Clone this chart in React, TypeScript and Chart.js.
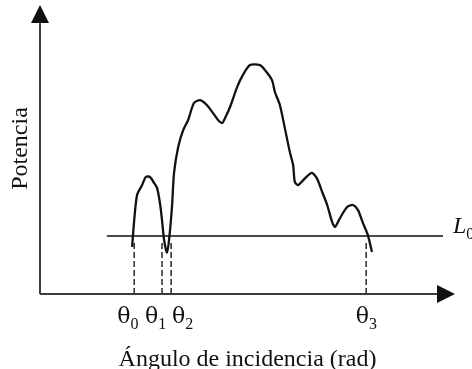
import React, { useEffect, useRef } from "react";
import { Chart, registerables } from "chart.js";

Chart.register(...registerables);

// Curve (angle of incidence -> power), arbitrary units 0..100
const curveX = [22.2, 22.7, 23.4, 24.6, 25.5, 26.5, 27.5, 28.2, 28.9, 29.4, 29.9, 30.6, 31.1, 31.8, 32.3, 33.3, 34.5, 35.7, 37.1, 38.6, 40.2, 41.7, 42.9, 43.9, 44.6, 45.8, 47.5, 48.9, 50.6, 53.0, 54.2, 55.9, 56.6, 57.8, 59.0, 60.2, 61.0, 61.4, 62.2, 63.9, 65.5, 66.7, 68.0, 69.2, 70.4, 71.1, 72.3, 74.0, 75.4, 76.6, 77.8, 79.0, 80.0];
const curveY = [16.3, 25.6, 34.3, 37.7, 40.5, 40.5, 38.4, 36.7, 31.5, 25.6, 18.7, 14.2, 18.7, 30.1, 41.9, 50.9, 56.7, 60.2, 66.1, 67.1, 65.4, 62.6, 60.2, 59.2, 60.9, 64.7, 71.6, 75.8, 79.2, 79.2, 77.5, 74.0, 69.9, 65.4, 57.4, 49.1, 44.6, 38.8, 37.7, 40.1, 41.9, 40.1, 35.3, 30.8, 24.9, 23.2, 26.3, 30.1, 30.8, 29.1, 24.6, 20.4, 14.5];

// Threshold line L0
const thresholdLevel = 20.1;
const thresholdRange = [16.1, 97.1];
const thresholdLabel = "L";
const thresholdSub = "0";

// Crossing angles
const thetaX = [22.7, 29.4, 31.6, 78.6];
const thetaDashTop = 18.5;
const thetaLabelX = [18.6, 25.3, 31.8, 76.1];
const thetaSubs = ["0", "1", "2", "3"];

const xTitle = "Ángulo de incidencia (rad)";
const yTitle = "Potencia";

const FONT = '"Liberation Serif", "Times New Roman", serif';
const AXIS_COLOR = "#3c3c3c";

const overlay = {
  id: "overlay",
  afterDatasetsDraw(chart: any) {
    const { ctx, chartArea, scales } = chart;
    const xs = scales.x;
    const ys = scales.y;
    const left = chartArea.left;
    const bottom = chartArea.bottom;
    const right = chartArea.right;
    const top = chartArea.top;
    const ah = 18;
    const aw = 9;
    ctx.save();
    ctx.strokeStyle = AXIS_COLOR;
    ctx.fillStyle = "#111";
    ctx.lineWidth = 2;
    // axes
    ctx.beginPath();
    ctx.moveTo(left, bottom);
    ctx.lineTo(right - ah + 2, bottom);
    ctx.moveTo(left, bottom);
    ctx.lineTo(left, top + ah - 2);
    ctx.stroke();
    // arrowheads
    ctx.beginPath();
    ctx.moveTo(right, bottom);
    ctx.lineTo(right - ah, bottom - aw);
    ctx.lineTo(right - ah, bottom + aw);
    ctx.closePath();
    ctx.fill();
    ctx.beginPath();
    ctx.moveTo(left, top);
    ctx.lineTo(left - aw, top + ah);
    ctx.lineTo(left + aw, top + ah);
    ctx.closePath();
    ctx.fill();

    // theta labels
    ctx.fillStyle = "#111";
    ctx.textBaseline = "alphabetic";
    ctx.textAlign = "left";
    const thetaBase = bottom + 29;
    thetaLabelX.forEach((v, i) => {
      const px = xs.getPixelForValue(v);
      ctx.font = `22px "DejaVu Serif", ${FONT}`;
      ctx.fillText("θ", px, thetaBase);
      const w = ctx.measureText("θ").width;
      ctx.font = `16px ${FONT}`;
      ctx.fillText(thetaSubs[i], px + w, thetaBase + 6);
    });

    // L0 label
    const ly = ys.getPixelForValue(thresholdLevel);
    ctx.font = `italic 24px ${FONT}`;
    ctx.fillText(thresholdLabel, xs.getPixelForValue(thresholdRange[1]) + 10, ly - 3);
    const lw = ctx.measureText(thresholdLabel).width;
    ctx.font = `16px ${FONT}`;
    ctx.fillText(thresholdSub, xs.getPixelForValue(thresholdRange[1]) + 10 + lw, ly + 3);

    // axis titles
    ctx.font = `24px ${FONT}`;
    ctx.textAlign = "center";
    ctx.fillText(xTitle, (left + right) / 2 + 0, chart.height - 3);
    ctx.translate(27, (top + bottom) / 2 - 1);
    ctx.rotate(-Math.PI / 2);
    ctx.fillText(yTitle, 0, 0);
    ctx.restore();
  },
};

export default function App() {
  const ref = useRef<HTMLCanvasElement | null>(null);
  useEffect(() => {
    if (!ref.current) return;
    const dashSets = thetaX.map((x) => ({
      data: [
        { x, y: 0 },
        { x, y: thetaDashTop },
      ],
      borderColor: "#333",
      borderWidth: 1.6,
      borderDash: [6, 3],
      pointRadius: 0,
      tension: 0,
    }));
    const chart = new Chart(ref.current, {
      type: "line",
      data: {
        datasets: [
          {
            data: curveX.map((x, i) => ({ x, y: curveY[i] })),
            borderColor: "#111",
            borderWidth: 2.3,
            pointRadius: 0,
            tension: 0.25,
          },
          {
            data: [
              { x: thresholdRange[0], y: thresholdLevel },
              { x: thresholdRange[1], y: thresholdLevel },
            ],
            borderColor: "#4a4a4a",
            borderWidth: 2,
            pointRadius: 0,
          },
          ...dashSets,
        ] as any,
      },
      options: {
        animation: false,
        responsive: false,
        devicePixelRatio: 1,
        layout: { padding: { left: 40, right: 17, top: 5, bottom: 75 } },
        plugins: { legend: { display: false }, tooltip: { enabled: false } },
        elements: { line: { capBezierPoints: true } },
        scales: {
          x: { type: "linear", min: 0, max: 100, display: false },
          y: { type: "linear", min: 0, max: 100, display: false },
        },
      },
      plugins: [overlay],
    });
    return () => chart.destroy();
  }, []);
  return (
    <div style={{ position: "fixed", left: 0, top: 0, width: 472, height: 369, background: "#fff" }}>
      <canvas ref={ref} width={472} height={369} style={{ display: "block" }} />
    </div>
  );
}
